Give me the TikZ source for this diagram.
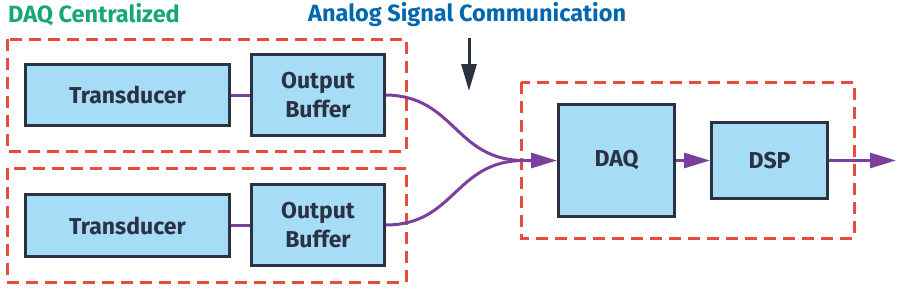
\documentclass[tikz,border=0pt]{standalone}
\usepackage{fontspec}
\setmainfont{Fira Sans}
\usetikzlibrary{arrows.meta}
\definecolor{boxfill}{RGB}{166,220,246}
\definecolor{boxline}{RGB}{42,50,68}
\definecolor{sigpurple}{RGB}{123,63,158}
\definecolor{dashred}{RGB}{232,76,61}
\definecolor{titlegreen}{RGB}{22,168,112}
\definecolor{titleblue}{RGB}{0,103,177}
\begin{document}
\begin{tikzpicture}[x=1pt,y=-1pt,
  blk/.style={draw=boxline, line width=3pt, fill=boxfill, font=\bfseries\fontsize{23}{29}\selectfont, text=boxline, align=center, inner sep=0pt},
  grp/.style={draw=dashred, line width=3pt, dash pattern=on 12pt off 7pt},
  sig/.style={draw=sigpurple, line width=3pt},
  sigarr/.style={sig, -{Triangle[length=26pt,width=15pt]}},
  ttl/.style={font=\bfseries\fontsize{23.5}{28}\selectfont, anchor=west, inner sep=0pt}
]
\useasboundingbox (0,0) rectangle (900,289);
% group boxes
\draw[grp] (7,39) rectangle (406,151);
\draw[grp] (7,168) rectangle (406,282);
\draw[grp] (521,82) rectangle (854,238);
% titles
\node[ttl, text=titlegreen] (t1) at (8,15) {DAQ Centralized};
\node[ttl, text=titleblue] (t2) at (308,15) {Analog Signal Communication};
% blocks
\node[blk, minimum width=204pt, minimum height=61pt] (tr1) at (127.5,95) {Transducer};
\node[blk, minimum width=133pt, minimum height=81pt] (ob1) at (318,95) {Output\\Buffer};
\node[blk, minimum width=204pt, minimum height=62pt] (tr2) at (127.5,225.5) {Transducer};
\node[blk, minimum width=133pt, minimum height=81pt] (ob2) at (318,225) {Output\\Buffer};
\node[blk, minimum width=116pt, minimum height=112pt] (daq) at (616.5,160.5) {DAQ};
\node[blk, minimum width=116pt, minimum height=76pt] (dsp) at (769.5,160.5) {DSP};
% connectors
\coordinate (m) at (524,160.5);
\coordinate (out) at (896,160.5);
\coordinate (bs) at (469,38);
\coordinate (be) at (469,91);
\draw[sig] (tr1.east) -- (tr1.east -| ob1.west);
\draw[sig] (tr2.east) -- (tr2.east -| ob2.west);
\draw[sig] (ob1.east) .. controls (455,96) and (455,160.5) .. (m);
\draw[sig] (ob2.east) .. controls (455,225) and (455,160.5) .. (m);
\draw[sigarr] (m) -- (daq.west);
\draw[sigarr] (daq.east) -- (dsp.west);
\draw[sigarr] (dsp.east) -- (out);
\draw[draw=boxline, line width=3pt, -{Triangle[length=27pt,width=15pt]}] (bs) -- (be);
\end{tikzpicture}
\end{document}
